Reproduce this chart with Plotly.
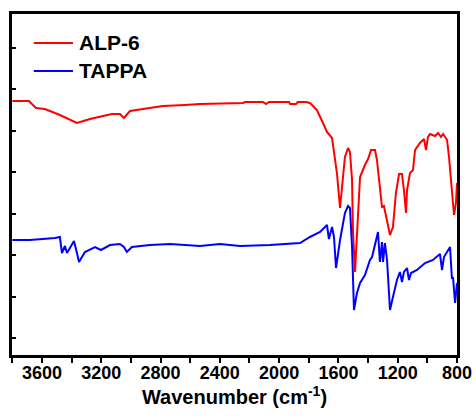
import plotly.graph_objects as go

# ALP-6 (red) spectrum: wavenumber (cm-1) and transmittance (a.u.)
alp6_wn = [3800, 3688, 3640, 3580, 3479, 3364, 3276, 3209, 3128, 3074, 3047, 3006,
           2871, 2784, 2635, 2534, 2244, 2230, 2109, 2089, 2068, 1933, 1926, 1886,
           1873, 1819, 1792, 1745, 1704, 1677, 1643, 1623, 1610, 1589, 1576, 1556,
           1535, 1522, 1508, 1502, 1488, 1475, 1454, 1421, 1400, 1380, 1353, 1340,
           1320, 1306, 1293, 1279, 1252, 1232, 1212, 1191, 1171, 1158, 1144, 1137,
           1117, 1097, 1083, 1050, 1023, 1009, 996, 982, 948, 928, 908, 894, 867,
           854, 834, 820, 807, 800]
alp6_t = [254, 254, 247, 246, 240, 232, 236, 238, 241, 241, 237, 244,
          247, 249, 250, 251, 252, 253, 253, 251, 253, 253, 251, 251,
          253, 253, 252, 245, 232, 223, 217, 195, 182, 147, 165, 198,
          207, 203, 175, 125, 83, 125, 178, 190, 196, 205, 205, 195,
          165, 148, 149, 138, 120, 128, 162, 181, 181, 165, 142, 165,
          182, 185, 205, 212, 216, 205, 218, 221, 219, 222, 218, 221, 215,
          198, 165, 140, 152, 172]

# TAPPA (blue) spectrum
tappa_wn = [3800, 3681, 3512, 3479, 3465, 3445, 3431, 3384, 3364, 3350, 3310, 3242,
            3202, 3141, 3074, 3047, 3027, 2993, 2871, 2736, 2534, 2399, 2264, 2062,
            1859, 1792, 1724, 1691, 1677, 1664, 1643, 1630, 1616, 1589, 1556, 1535,
            1522, 1508, 1495, 1475, 1454, 1421, 1387, 1373, 1333, 1320, 1306, 1299,
            1286, 1272, 1266, 1252, 1232, 1205, 1185, 1171, 1158, 1137, 1124, 1110,
            1070, 1016, 962, 915, 901, 888, 847, 834, 827, 813, 800]
tappa_t = [115, 115, 117, 118, 102, 109, 102, 114, 102, 93, 103, 108,
           105, 110, 111, 108, 103, 108, 110, 111, 109, 111, 109, 110,
           112, 118, 123, 128, 130, 116, 128, 118, 87, 115, 142, 149,
           147, 108, 45, 62, 72, 80, 95, 98, 123, 93, 113, 93,
           112, 95, 75, 45, 58, 75, 83, 73, 83, 87, 75, 82,
           85, 92, 95, 101, 85, 98, 108, 76, 78, 52, 72]

x_ticks = [3600, 3200, 2800, 2400, 2000, 1600, 1200, 800]
x_tick_labels = ["3600", "3200", "2800", "2400", "2000", "1600", "1200", "800"]

FONT = "Liberation Sans, Arial, sans-serif"

fig = go.Figure()
fig.add_trace(go.Scatter(x=alp6_wn, y=alp6_t, mode="lines", name="ALP-6",
                         line=dict(color="#ff0000", width=2), showlegend=False))
fig.add_trace(go.Scatter(x=tappa_wn, y=tappa_t, mode="lines", name="TAPPA",
                         line=dict(color="#0000ff", width=2), showlegend=False))

# manual legend
legend_items = [("ALP-6", "#ff0000", 0.915), ("TAPPA", "#0000ff", 0.833)]
for name, color, yp in legend_items:
    fig.add_shape(type="line", xref="paper", yref="paper", x0=0.049, x1=0.137,
                  y0=yp, y1=yp, line=dict(color=color, width=2))
    fig.add_annotation(xref="paper", yref="paper", x=0.145, y=yp, text=name,
                       showarrow=False, xanchor="left", yanchor="middle",
                       font=dict(family=FONT, size=21, color="black", weight="bold"))

fig.update_layout(
    width=476, height=419,
    margin=dict(l=12, r=19, t=14, b=64, autoexpand=False),
    paper_bgcolor="white", plot_bgcolor="white",
    showlegend=False,
    xaxis=dict(
        range=[3802, 800], tickvals=x_ticks, ticktext=x_tick_labels,
        ticks="outside", ticklen=5, tickwidth=2, tickcolor="black",
        ticklabelstandoff=-6,
        minor=dict(dtick=200, tick0=800, ticks="outside", ticklen=5, tickwidth=2, tickcolor="black"),
        showline=True, linewidth=3, linecolor="black", mirror=True,
        showgrid=False, zeroline=False, automargin=False,
        tickfont=dict(family=FONT, size=18, color="black", weight="bold"),
        title=dict(text="Wavenumber (cm<sup>-1</sup>)", standoff=8,
                   font=dict(family=FONT, size=20, color="black", weight="bold")),
    ),
    xaxis2=dict(
        range=[3802, 800], overlaying="x", side="top", anchor="y",
        tick0=800, dtick=300, ticks="outside", ticklen=3, tickwidth=1, tickcolor="black",
        showticklabels=False, showline=False, showgrid=False, zeroline=False,
        automargin=False,
    ),
    yaxis=dict(
        range=[0, 341], tick0=17, dtick=41.5,
        ticks="inside", ticklen=4, tickwidth=2, tickcolor="black",
        showticklabels=False, showline=True, linewidth=3, linecolor="black", mirror=True,
        showgrid=False, zeroline=False, automargin=False,
    ),
    yaxis2=dict(
        range=[0, 341], overlaying="y", side="right", anchor="x",
        tick0=10, dtick=34, ticks="outside", ticklen=3, tickwidth=1, tickcolor="black",
        showticklabels=False, showline=False, showgrid=False, zeroline=False,
        automargin=False,
    ),
)

fig.write_html("out.html")
